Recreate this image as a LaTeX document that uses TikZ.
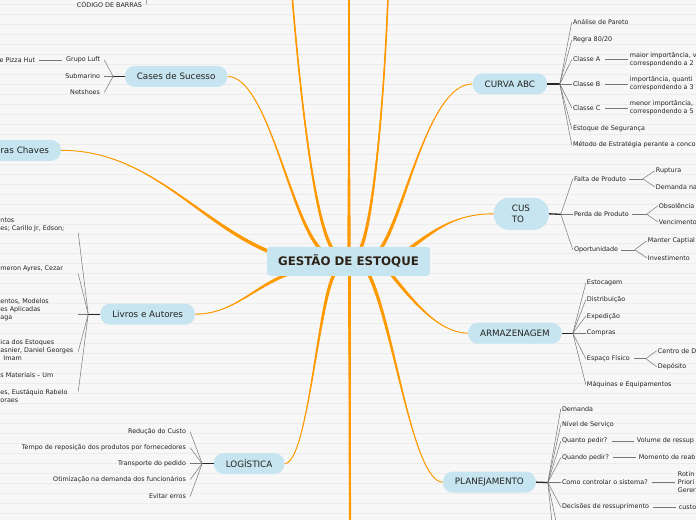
\documentclass[tikz,border=0pt]{standalone}
\usepackage{fontspec}
\setmainfont{DejaVu Sans}
\usetikzlibrary{calc}
\definecolor{bgc}{HTML}{F7F7F7}
\definecolor{stripe}{HTML}{ECECEC}
\definecolor{nodefill}{HTML}{C7E5F0}
\definecolor{orangec}{HTML}{FF9900}
\definecolor{txt}{HTML}{222222}
\definecolor{ctxt}{HTML}{2E2318}
\definecolor{fanc}{HTML}{777777}
\pgfdeclarelayer{back}
\pgfdeclarelayer{links}
\pgfsetlayers{back,links,main}
\newcommand{\tbranch}[5]{%
 \fill[orangec] (#1) .. controls (#2) and ($(#3)!#5!-90:(#4)$) .. ($(#4)!#5!90:(#3)$) -- ($(#4)!#5!-90:(#3)$) .. controls ($(#3)!#5!90:(#4)$) and (#2) .. (#1) -- cycle;
 \draw[orangec, line width=0.9pt] (#1) .. controls (#2) and (#3) .. (#4);}
\tikzset{
 mainnode/.style={fill=nodefill, rounded corners=10pt, minimum height=21pt, inner xsep=12pt, inner ysep=2pt, font=\fontsize{8.8}{11}\selectfont, text=txt},
 centrenode/.style={fill=nodefill, rounded corners=3pt, minimum width=163pt, minimum height=29pt, font=\fontsize{11.8}{14}\bfseries, text=ctxt},
 leaf/.style={font=\fontsize{6.4}{8}\selectfont, text=txt, inner sep=1pt, anchor=west},
 leafL/.style={leaf, anchor=east, inner xsep=4pt},
 blocktext/.style={leaf, anchor=west, inner sep=0pt, align=left},
 fan/.style={draw=fanc, line width=0.5pt},
 stem/.style={draw=black!85, line width=1.3pt}
}
\begin{document}
\begin{tikzpicture}[x=1pt,y=-1pt]
\begin{pgfonlayer}{back}
\fill[bgc] (0,0) rectangle (696,520);
\foreach \yy in {4,14,...,514} \draw[stripe, line width=0.6pt] (0,\yy) -- (696,\yy);
\end{pgfonlayer}
\useasboundingbox (0,0) rectangle (696,520);

% main nodes
\node[centrenode] (gestao) at (348.5,261.5) {GESTÃO DE ESTOQUE};
\node[mainnode] (cases) at (176,76.5) {Cases de Sucesso};
\node[mainnode, anchor=east] (palavras) at (61,150.5) {ras Chaves};
\node[mainnode] (livros) at (147.5,314.5) {Livros e Autores};
\node[mainnode] (logistica) at (249,464) {LOGÍSTICA};
\node[mainnode] (curva) at (510,84) {CURVA ABC};
\node[mainnode, rounded corners=15pt, text width=19pt, align=left, inner xsep=18pt, minimum height=32pt] (custo) at (521.5,214) {CUS\\TO};
\node[mainnode] (armazenagem) at (515,333.5) {ARMAZENAGEM};
\node[mainnode] (planejamento) at (489.5,482.5) {PLANEJAMENTO};

% coordinates on the central node and off-canvas ends
\coordinate (eTL) at (333,250);
\coordinate (eTV) at (349,250);
\coordinate (eTR) at (360,250);
\coordinate (eCases) at (321,250);
\coordinate (ePal) at (272,253);
\coordinate (eLiv) at (292,273);
\coordinate (eLog) at (335,273);
\coordinate (eBV) at (349.5,273);
\coordinate (ePlan) at (368,273);
\coordinate (eArm) at (390,273);
\coordinate (eCus) at (408,250);
\coordinate (eCur) at (380,250);
\coordinate (oTL) at (290,-30);
\coordinate (oTV) at (349,-30);
\coordinate (oTR) at (389,-30);
\coordinate (oBV) at (350,550);

\begin{pgfonlayer}{links}
\tbranch{oTL}{300,100}{315,225}{eTL}{1.7pt}
\tbranch{oTV}{349,80}{349,180}{eTV}{1.6pt}
\tbranch{oTR}{385,100}{373,225}{eTR}{1.7pt}
\tbranch{cases.east}{268,77}{290,220}{eCases}{1.7pt}
\tbranch{palavras.east}{150,150}{200,225}{ePal}{1.8pt}
\tbranch{livros.east}{235,314}{255,285}{eLiv}{1.6pt}
\tbranch{logistica.east}{308,464}{318,300}{eLog}{1.7pt}
\tbranch{oBV}{350,450}{349.5,350}{eBV}{1.5pt}
\tbranch{planejamento.west}{412,482}{393,320}{ePlan}{1.7pt}
\tbranch{armazenagem.west}{438,333}{412,300}{eArm}{1.6pt}
\tbranch{custo.west}{455,214}{435,230}{eCus}{1.7pt}
\tbranch{curva.west}{428,84}{405,215}{eCur}{1.7pt}
\draw[orangec, line width=1.6pt] (oTL) .. controls (300,100) and (315,225) .. (eTL);
\draw[orangec, line width=1.6pt] (oTR) .. controls (385,100) and (373,225) .. (eTR);
\draw[orangec, line width=1.8pt] (oTV) -- (eTV);
\draw[orangec, line width=2.2pt] (oBV) -- (eBV);
\end{pgfonlayer}

% top fragment
\node[leaf, anchor=east] (cod) at (143,4.5) {CÓDIGO DE BARRAS};
\coordinate (oCod) at (147.5,-20);
\draw[fan] ([xshift=3pt]cod.east) -- (oCod);

% Cases de Sucesso
\coordinate (jCas) at (113,76.5);
\draw[stem] (cases.west) -- (jCas);
\node[leafL] (gl) at (104,60) {Grupo Luft};
\node[leafL] (sub) at (104,76.5) {Submarino};
\node[leafL] (net) at (104,92.5) {Netshoes};
\node[leafL] (pz) at (39,60) {e Pizza Hut};
\foreach \n in {gl,sub,net} \draw[fan] (jCas) -- (\n.east);
\draw[fan] (gl.west) -- (pz.east);

% Livros e Autores
\coordinate (jLiv) at (88,314.5);
\draw[stem] (livros.west) -- (jLiv);
\node[blocktext] (b1) at (0,225) {ntos\\es; Carillo Jr, Edson;};
\node[blocktext] (b2) at (0,269) {meron Ayres, Cezar};
\node[blocktext] (b3) at (0,310) {entos, Modelos\\es Aplicadas\\aga};
\node[blocktext] (b4) at (0,350.5) {ica dos Estoques\\asnier, Daniel Georges\\\hspace*{3pt}Imam};
\node[blocktext] (b5) at (0,375.5) {s Materiais – Um};
\node[blocktext] (b6) at (0,396) {es, Eustáquio Rabelo\\oraes};
\coordinate (fL1) at (78,233);
\coordinate (fL2) at (78,274);
\coordinate (fL3) at (78,314.5);
\coordinate (fL4) at (78,352);
\coordinate (fL5) at (78,392);
\foreach \n in {fL1,fL2,fL3,fL4,fL5} \draw[fan] (jLiv) -- (\n);

% LOGISTICA
\coordinate (jLog) at (202,464);
\draw[stem] (logistica.west) -- (jLog);
\node[leafL] (lg1) at (190,432) {Redução do Custo};
\node[leafL] (lg2) at (190,448) {Tempo de reposição dos produtos por fornecedores};
\node[leafL] (lg3) at (190,464) {Transporte do pedido};
\node[leafL] (lg4) at (190,480) {Otimização na demanda dos funcionários};
\node[leafL] (lg5) at (190,497) {Evitar erros};
\foreach \n in {lg1,lg2,lg3,lg4,lg5} \draw[fan] (jLog) -- (\n.east);

% CURVA ABC
\coordinate (jCur) at (560,84);
\draw[stem] (curva.east) -- (jCur);
\node[leaf] (cA1) at (572,22) {Análise de Pareto};
\node[leaf] (cA2) at (572,40) {Regra 80/20};
\node[leaf] (cA3) at (572,59.5) {Classe A};
\node[leaf] (cA4) at (572,84) {Classe B};
\node[leaf] (cA5) at (572,108) {Classe C};
\node[leaf] (cA6) at (572,129) {Estoque de Segurança};
\node[leaf] (cA7) at (572,145) {Método de Estratégia perante a conco};
\foreach \n in {cA1,cA2,cA3,cA4,cA5,cA6,cA7} \draw[fan] (jCur) -- (\n.west);
\node[leaf, align=left] (dA) at (629,59.5) {maior importância, v\\correspondendo a 2};
\node[leaf, align=left] (dB) at (629,84) {importância, quanti\\correspondendo a 3};
\node[leaf, align=left] (dC) at (629,108) {menor importância,\\correspondendo a 5};
\draw[fan] ([xshift=4pt]cA3.east) -- ([xshift=-1pt]dA.west);
\draw[fan] ([xshift=4pt]cA4.east) -- ([xshift=-1pt]dB.west);
\draw[fan] ([xshift=4pt]cA5.east) -- ([xshift=-1pt]dC.west);

% CUSTO
\coordinate (jCus) at (561,214.5);
\draw[stem] (custo.east) -- (jCus);
\node[leaf] (cu1) at (573,179) {Falta de Produto};
\node[leaf] (cu2) at (573,214.5) {Perda de Produto};
\node[leaf] (cu3) at (573,250) {Oportunidade};
\foreach \n in {cu1,cu2,cu3} \draw[fan] (jCus) -- (\n.west);
\coordinate (jF) at (643,179);
\coordinate (jP) at (647,214.5);
\coordinate (jO) at (635,250);
\draw[fan] ([xshift=2pt]cu1.east) -- (jF);
\draw[fan] ([xshift=2pt]cu2.east) -- (jP);
\draw[fan] ([xshift=2pt]cu3.east) -- (jO);
\node[leaf] (f1) at (655,171) {Ruptura};
\node[leaf] (f2) at (655,187) {Demanda na};
\node[leaf] (p1) at (658,206) {Obsolência};
\node[leaf] (p2) at (658,222) {Vencimento};
\node[leaf] (o1) at (647,241) {Manter Captial};
\node[leaf] (o2) at (647,258) {Investimento};
\draw[fan] (jF) -- (f1.west); \draw[fan] (jF) -- (f2.west);
\draw[fan] (jP) -- (p1.west); \draw[fan] (jP) -- (p2.west);
\draw[fan] (jO) -- (o1.west); \draw[fan] (jO) -- (o2.west);

% ARMAZENAGEM
\coordinate (jArm) at (573,333.5);
\draw[stem] (armazenagem.east) -- (jArm);
\node[leaf] (a1) at (586,283.5) {Estocagem};
\node[leaf] (a2) at (586,300) {Distribuição};
\node[leaf] (a3) at (586,316.5) {Expedição};
\node[leaf] (a4) at (586,333.5) {Compras};
\node[leaf] (a5) at (586,359) {Espaço Físico};
\node[leaf] (a6) at (586,385) {Máquinas e Equipamentos};
\foreach \n in {a1,a2,a3,a4,a5,a6} \draw[fan] (jArm) -- (\n.west);
\coordinate (jE) at (646,359);
\draw[fan] ([xshift=3pt]a5.east) -- (jE);
\node[leaf] (e1) at (657,351) {Centro de D};
\node[leaf] (e2) at (657,367) {Depósito};
\draw[fan] (jE) -- (e1.west); \draw[fan] (jE) -- (e2.west);

% PLANEJAMENTO
\coordinate (jPlan) at (548,483);
\draw[stem] (planejamento.east) -- (jPlan);
\node[leaf] (pl1) at (561,409) {Demanda};
\node[leaf] (pl2) at (561,425) {Nível de Serviço};
\node[leaf] (pl3) at (561,441.5) {Quanto pedir?};
\node[leaf] (pl4) at (561,458) {Quando pedir?};
\node[leaf] (pl5) at (561,483) {Como controlar o sistema?};
\node[leaf] (pl6) at (561,507.5) {Decisões de ressuprimento};
\foreach \n in {pl1,pl2,pl3,pl4,pl5,pl6} \draw[fan] (jPlan) -- (\n.west);
\coordinate (oP1) at (554,540);
\coordinate (oP2) at (560,540);
\draw[fan] (jPlan) -- (oP1);
\draw[fan] (jPlan) -- (oP2);
\node[leaf] (q1) at (636,441.5) {Volume de ressup};
\node[leaf] (q2) at (638,458) {Momento de reab};
\node[leaf, align=left] (q3) at (677,483) {Rotin\\Priori\\Gerer};
\node[leaf] (q4) at (678,507.5) {custo};
\draw[fan] ([xshift=3pt]pl3.east) -- ([xshift=-2pt]q1.west);
\draw[fan] ([xshift=3pt]pl4.east) -- ([xshift=-2pt]q2.west);
\draw[fan] ([xshift=3pt]pl5.east) -- ([xshift=-2pt]q3.west);
\draw[fan] ([xshift=3pt]pl6.east) -- ([xshift=-2pt]q4.west);
\end{tikzpicture}
\end{document}
